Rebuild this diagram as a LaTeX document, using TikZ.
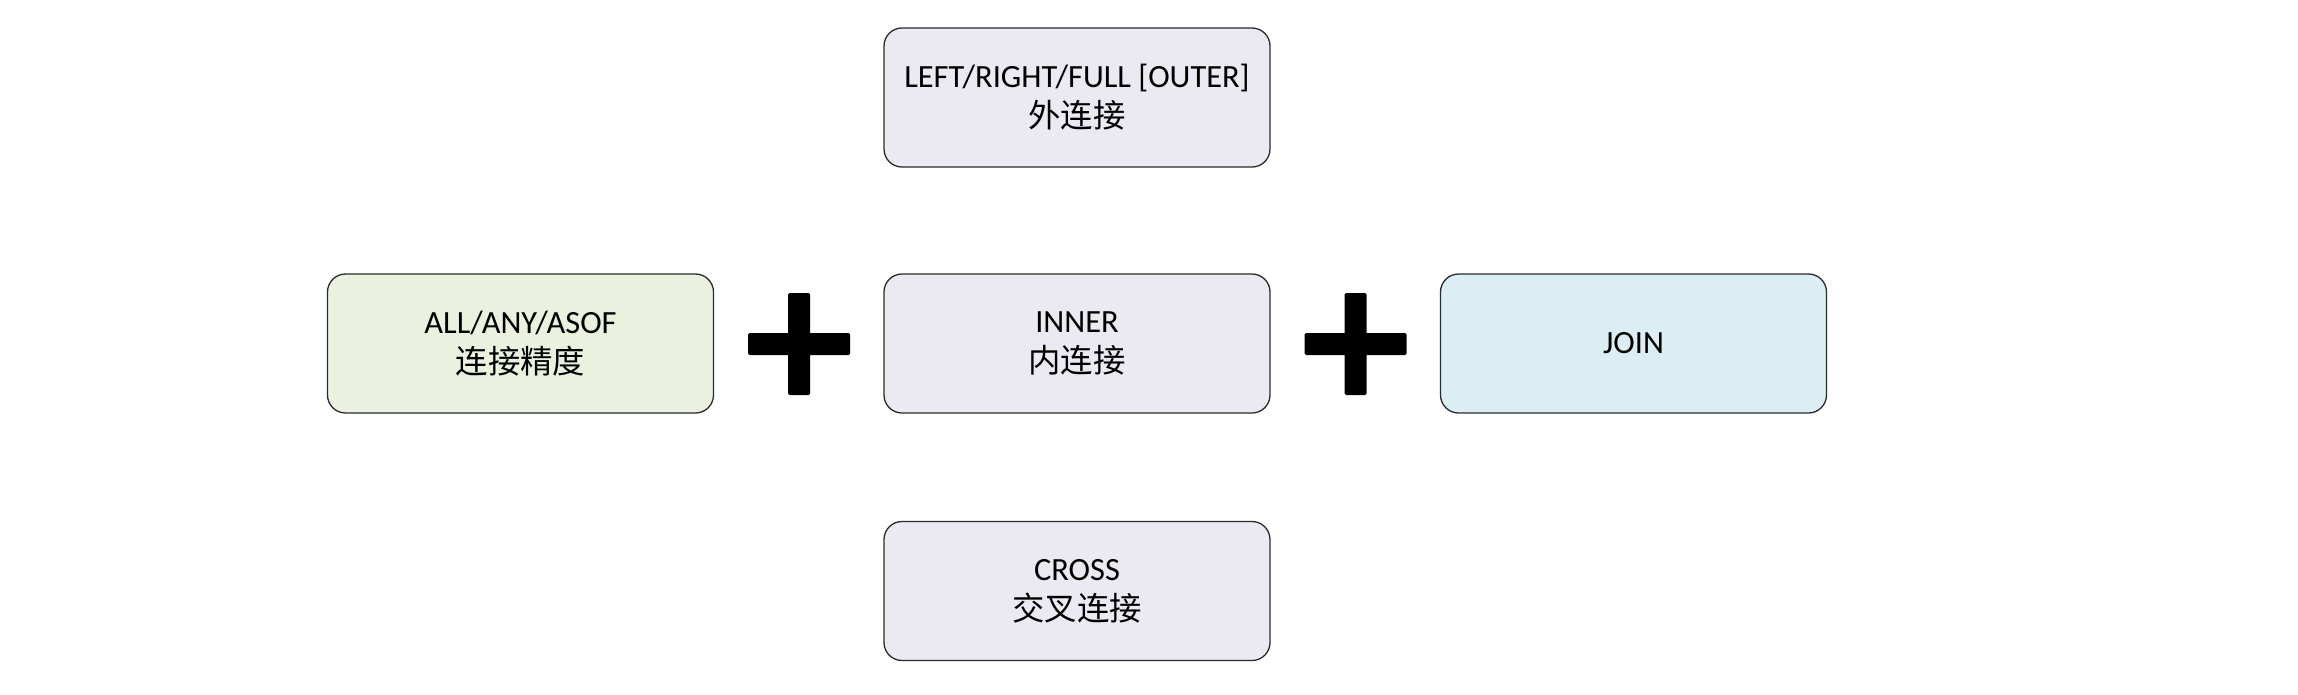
\documentclass[tikz,border=0pt]{standalone}
\usepackage{fontspec}
\setmainfont{Carlito}
\newfontfamily\cjk{Noto Sans CJK SC}
\definecolor{lav}{HTML}{EBE9F1}
\definecolor{grn}{HTML}{EBF1DF}
\definecolor{blu}{HTML}{DAEEF3}
\definecolor{edge}{HTML}{2B2B2B}
\begin{document}
\begin{tikzpicture}[x=1pt,y=-1pt,
  box/.style={draw=edge,line width=1.3pt,rounded corners=18pt,minimum width=386pt,minimum height=139pt,align=center,inner sep=0pt,font=\fontsize{32.4}{40}\selectfont},
  plusmark/.style={fill=black,rounded corners=1.5pt}]
\useasboundingbox[fill=white] (0,0) rectangle (2298,694);
\node[box,fill=lav] (outer) at (1077,97.5) {LEFT/RIGHT/FULL [OUTER]\\{\cjk 外连接}};
\node[box,fill=grn] (prec) at (520.5,343.5) {ALL/ANY/ASOF\\{\cjk 连接精度}};
\node[box,fill=lav] (inner) at (1077,343.5) {INNER\\{\cjk 内连接}};
\node[box,fill=blu] (join) at (1633.5,343.5) {JOIN};
\node[box,fill=lav] (cross) at (1077,591) {CROSS\\{\cjk 交叉连接}};
\coordinate (p1) at (799,344);
\coordinate (p2) at (1355.5,344);
\foreach \p in {p1,p2}{
  \fill[plusmark] ([xshift=-51pt,yshift=-11pt]\p) rectangle ([xshift=51pt,yshift=11pt]\p);
  \fill[plusmark] ([xshift=-11pt,yshift=-51pt]\p) rectangle ([xshift=11pt,yshift=51pt]\p);
}
\end{tikzpicture}
\end{document}
